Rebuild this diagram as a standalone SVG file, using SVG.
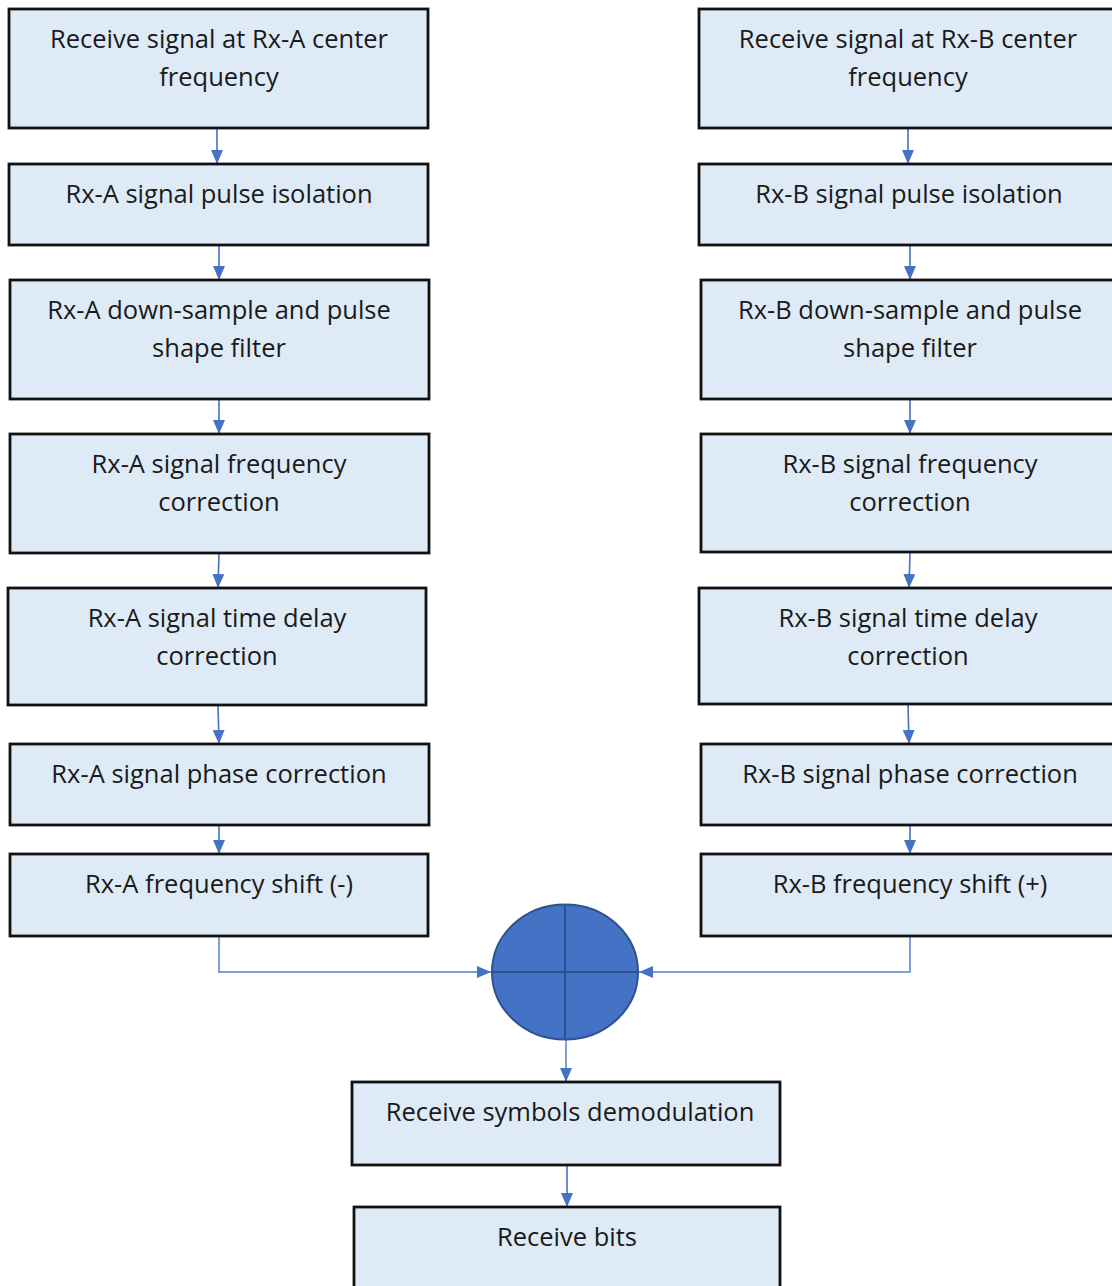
<svg xmlns="http://www.w3.org/2000/svg" width="1112" height="1286" viewBox="0 0 1112 1286">
<style>
.box{fill:#DEEBF7;stroke:#111;stroke-width:2.8}
.t{font-family:"Open Sans","Liberation Sans",sans-serif;font-size:25.5px;fill:#1a1a1a;text-anchor:middle}
.c{stroke:#4472C4;stroke-width:1.6;fill:none}
.c2{stroke:#7F9FDC;stroke-width:2;fill:none}
</style>
<defs>
<marker id="ah" markerWidth="14" markerHeight="12" refX="14" refY="6" orient="auto" markerUnits="userSpaceOnUse">
<path d="M0,0 L14,6 L0,12 Z" fill="#4472C4"/>
</marker>
</defs>
<rect width="1112" height="1286" fill="#fff"/>
<g id="connectors">
<line class="c" x1="217" y1="128" x2="217" y2="164" marker-end="url(#ah)"/>
<line class="c" x1="219" y1="245" x2="219" y2="280" marker-end="url(#ah)"/>
<line class="c" x1="219" y1="399" x2="219" y2="434" marker-end="url(#ah)"/>
<line class="c" x1="219" y1="553" x2="218" y2="588" marker-end="url(#ah)"/>
<line class="c" x1="218" y1="705" x2="219" y2="744" marker-end="url(#ah)"/>
<line class="c" x1="219" y1="825" x2="219" y2="854" marker-end="url(#ah)"/>
<line class="c" x1="908" y1="128" x2="908" y2="164" marker-end="url(#ah)"/>
<line class="c" x1="910" y1="245" x2="910" y2="280" marker-end="url(#ah)"/>
<line class="c" x1="910" y1="399" x2="910" y2="434" marker-end="url(#ah)"/>
<line class="c" x1="910" y1="552" x2="909" y2="588" marker-end="url(#ah)"/>
<line class="c" x1="908" y1="704" x2="909" y2="744" marker-end="url(#ah)"/>
<line class="c" x1="910" y1="825" x2="910" y2="854" marker-end="url(#ah)"/>
<polyline class="c2" points="219,936 219,972 491,972" marker-end="url(#ah)"/>
<polyline class="c2" points="910,936 910,972 639,972" marker-end="url(#ah)"/>
<line class="c2" x1="566" y1="1040" x2="566" y2="1082" marker-end="url(#ah)"/>
<line class="c" x1="567" y1="1165" x2="567" y2="1207" marker-end="url(#ah)"/>
</g>
<g id="a1"><rect class="box" x="9" y="9" width="419" height="119"/><text class="t" x="219" y="48">Receive signal at Rx-A center</text><text class="t" x="219" y="86">frequency</text></g>
<g id="a2"><rect class="box" x="9" y="164" width="419" height="81"/><text class="t" x="219" y="203">Rx-A signal pulse isolation</text></g>
<g id="a3"><rect class="box" x="10" y="280" width="419" height="119"/><text class="t" x="219" y="319">Rx-A down-sample and pulse</text><text class="t" x="219" y="357">shape filter</text></g>
<g id="a4"><rect class="box" x="10" y="434" width="419" height="119"/><text class="t" x="219" y="473">Rx-A signal frequency</text><text class="t" x="219" y="511">correction</text></g>
<g id="a5"><rect class="box" x="8" y="588" width="418" height="117"/><text class="t" x="217" y="627">Rx-A signal time delay</text><text class="t" x="217" y="665">correction</text></g>
<g id="a6"><rect class="box" x="10" y="744" width="419" height="81"/><text class="t" x="219" y="783">Rx-A signal phase correction</text></g>
<g id="a7"><rect class="box" x="10" y="854" width="418" height="82"/><text class="t" x="219" y="893">Rx-A frequency shift (-)</text></g>
<g id="b1"><rect class="box" x="699" y="9" width="419" height="119"/><text class="t" x="908" y="48">Receive signal at Rx-B center</text><text class="t" x="908" y="86">frequency</text></g>
<g id="b2"><rect class="box" x="699" y="164" width="419" height="81"/><text class="t" x="909" y="203">Rx-B signal pulse isolation</text></g>
<g id="b3"><rect class="box" x="701" y="280" width="419" height="119"/><text class="t" x="910" y="319">Rx-B down-sample and pulse</text><text class="t" x="910" y="357">shape filter</text></g>
<g id="b4"><rect class="box" x="701" y="434" width="419" height="118"/><text class="t" x="910" y="473">Rx-B signal frequency</text><text class="t" x="910" y="511">correction</text></g>
<g id="b5"><rect class="box" x="699" y="588" width="419" height="116"/><text class="t" x="908" y="627">Rx-B signal time delay</text><text class="t" x="908" y="665">correction</text></g>
<g id="b6"><rect class="box" x="701" y="744" width="419" height="81"/><text class="t" x="910" y="783">Rx-B signal phase correction</text></g>
<g id="b7"><rect class="box" x="701" y="854" width="419" height="82"/><text class="t" x="910" y="893">Rx-B frequency shift (+)</text></g>
<g id="sum">
<ellipse cx="565" cy="972" rx="73" ry="67.5" fill="#4472C4" stroke="#2F528F" stroke-width="2"/>
<line x1="565" y1="904.5" x2="565" y2="1039.5" stroke="#2F528F" stroke-width="2"/>
<line x1="492" y1="972" x2="638" y2="972" stroke="#2F528F" stroke-width="2"/>
</g>
<g id="demod"><rect class="box" x="352" y="1082" width="428" height="83"/><text class="t" x="570" y="1121">Receive symbols demodulation</text></g>
<g id="bits"><rect class="box" x="354" y="1207" width="426" height="90"/><text class="t" x="567" y="1246">Receive bits</text></g>
</svg>
